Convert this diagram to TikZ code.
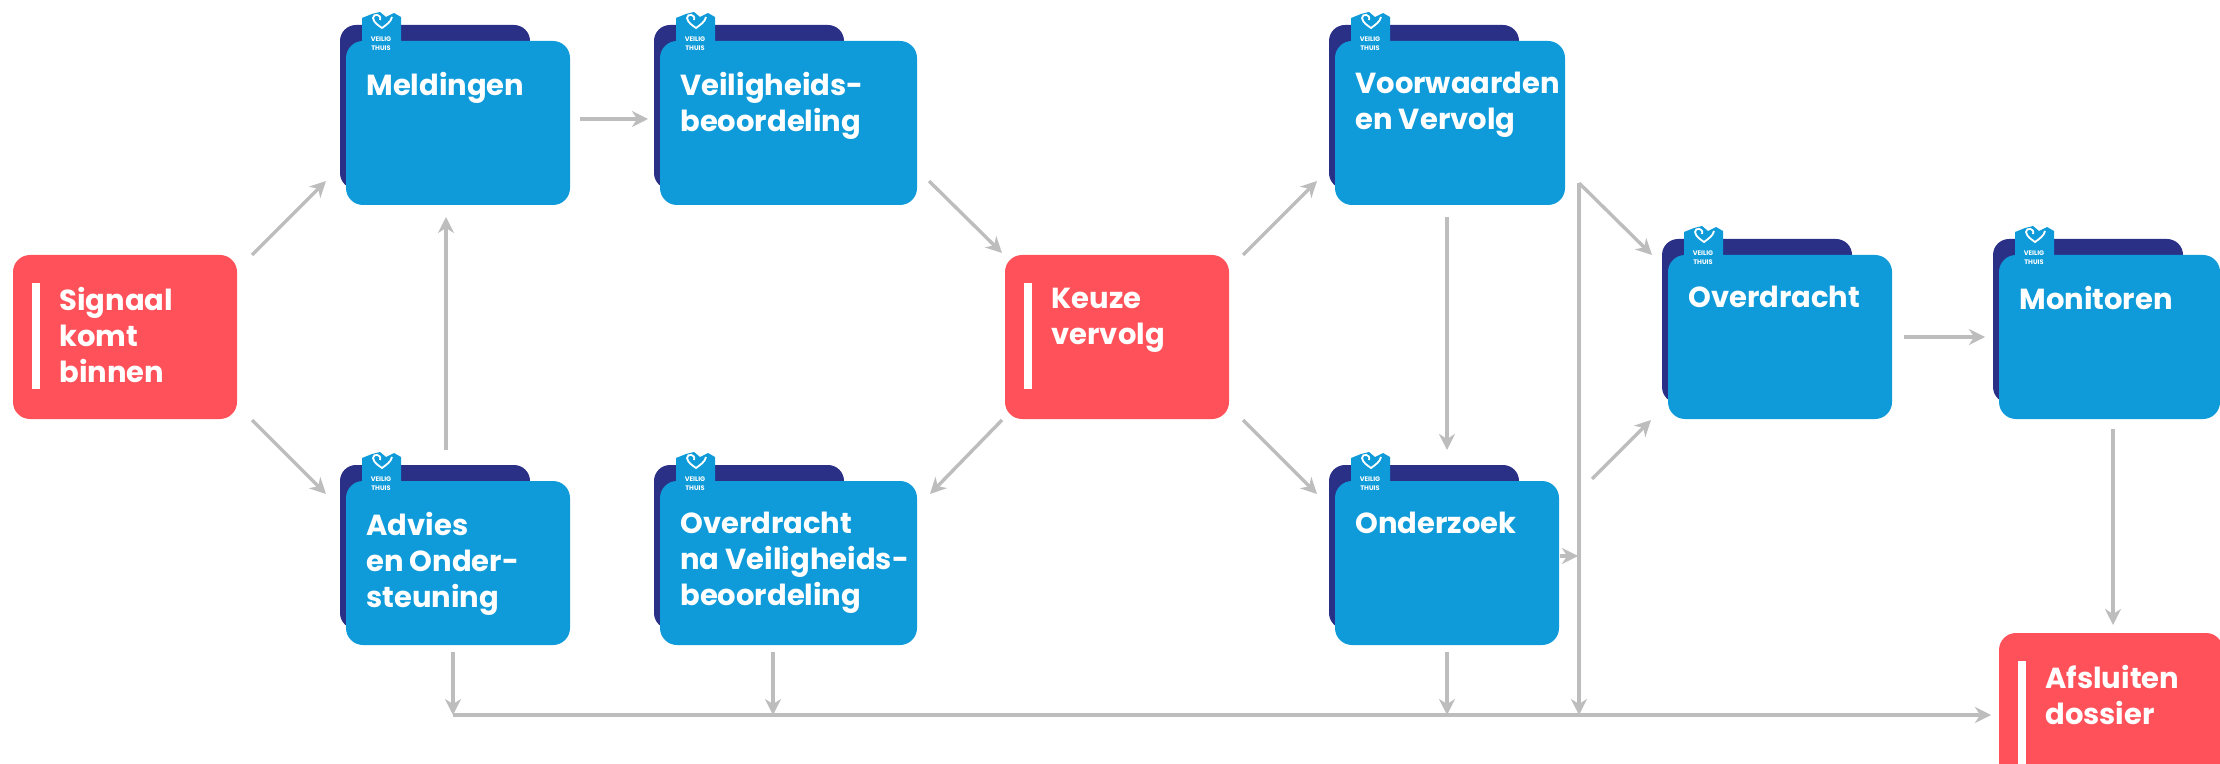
\documentclass[tikz,border=0pt]{standalone}
\usepackage{fontspec}
\setmainfont{Poppins}
\usetikzlibrary{positioning}
\usetikzlibrary{calc}
\usetikzlibrary{arrows.meta}

\definecolor{vtblue}{HTML}{0F9BD9}
\definecolor{vtnavy}{HTML}{2B3087}
\definecolor{vtred}{HTML}{FF5159}
\definecolor{vtgrey}{HTML}{BDBDBD}

\tikzset{
  bluebox/.style={fill=vtblue, rounded corners=8.5pt, inner sep=0pt, outer sep=0pt, anchor=north west},
  redbox/.style={fill=vtred, rounded corners=8.5pt, inner sep=0pt, outer sep=0pt, anchor=north west
                , minimum width=112pt, minimum height=82pt},
  backbox/.style={fill=vtnavy, rounded corners=8pt, inner sep=0pt, outer sep=0pt, anchor=north west
                , minimum width=95pt, minimum height=82pt},
  whitebar/.style={fill=white, inner sep=0pt, outer sep=0pt, anchor=north west
                , minimum width=4pt, minimum height=53pt},
  boxtext/.style={text=white, inner sep=0pt, anchor=north west, align=left
                , font=\bfseries\fontsize{14.5}{18}\selectfont},
  badgetext/.style={text=white, inner sep=0pt, align=center
                , font=\bfseries\fontsize{3.3}{4.6}\selectfont},
  conn/.style={draw=vtgrey, line width=1.7pt, -{Stealth[length=8pt,width=8pt,inset=2.5pt]}},
}

% name, x, y, width, text
\newcommand{\vtfolder}[5]{
  \node (#1-back) [backbox] at (#2-6,#3-16) {};
  \node (#1) [bluebox, minimum width=#4*0.5pt, minimum height=82pt] at (#2,#3) {};
  \fill [vtblue] (#2+16,#3+17) -- (#2+16,#3-23) -- (#2+26,#3-27) -- (#2+34,#3-29)
    -- (#2+40,#3-24) -- (#2+48,#3-28) -- (#2+55,#3-24) -- (#2+55,#3+17) -- cycle;
  \draw [white, line width=0.9pt] (#2+34,#3-21) .. controls (#2+36,#3-27) and (#2+27,#3-28) .. (#2+27,#3-23)
    .. controls (#2+28,#3-18) and (#2+32,#3-16) .. (#2+36,#3-13)
    .. controls (#2+40,#3-16) and (#2+45,#3-19) .. (#2+46,#3-24);
  \node (#1-badge) [badgetext] at (#2+35,#3+3) {VEILIG\\THUIS};
  \node (#1-text) [boxtext] at (#2+20,#3+31) {\vphantom{l}#5};
}

% name, x, y, text
\newcommand{\vtstep}[4]{
  \node (#1) [redbox] at (#2,#3) {};
  \node (#1-bar) [whitebar] at (#2+19,#3+28) {};
  \node (#1-text) [boxtext] at (#2+46,#3+32) {\vphantom{l}#4};
}

\begin{document}
\begin{tikzpicture}[x=0.5pt,y=-0.5pt]

  \useasboundingbox (0,0) rectangle (2220,764);
  \clip (0,0) rectangle (2220,764);

  \vtfolder{meldingen}{346}{41}{224}{Meldingen}
  \vtfolder{veiligheid}{660}{41}{257}{Veiligheids-\\beoordeling}
  \vtfolder{voorwaarden}{1335}{41}{230}{Voorwaarden\\en Vervolg}
  \vtfolder{overdracht}{1668}{255}{224}{Overdracht}
  \vtfolder{monitoren}{1999}{255}{221}{Monitoren}
  \vtfolder{advies}{346}{481}{224}{Advies\\en Onder-\\steuning}
  \vtfolder{overdrachtna}{660}{481}{257}{Overdracht\\na Veiligheids-\\beoordeling}
  \vtfolder{onderzoek}{1335}{481}{224}{Onderzoek}

  \vtstep{signaal}{13}{255}{Signaal\\komt\\binnen}
  \vtstep{keuze}{1005}{255}{Keuze\\vervolg}
  \vtstep{afsluiten}{1999}{633}{Afsluiten\\dossier}

  \coordinate (bus1) at (453,715);
  \coordinate (bus2) at (773,715);
  \coordinate (bus3) at (1447,715);
  \coordinate (railtop) at ($(voorwaarden.south east)+(14,-22)$);
  \coordinate (railbot) at (railtop |- bus1);
  \coordinate (railmid) at ($(onderzoek.east)+(19,-7)$);

  \draw [conn] ($(signaal.north east)+(15,0)$) -- ($(meldingen.south west)+(-20,-24)$);
  \draw [conn] ($(signaal.south east)+(15,1)$) -- ($(advies.north west)+(-20,13)$);
  \draw [conn] ($(meldingen.east)+(10,-4)$) -- ($(veiligheid.west)+(-12,-4)$);
  \draw [conn] ($(advies.north)+(-12,-31)$) -- ($(meldingen.south)+(-12,12)$);
  \draw [conn] ($(veiligheid.south east)+(12,-24)$) -- ($(keuze.north west)+(-3,-2)$);
  \draw [conn] ($(keuze.south west)+(-3,1)$) -- ($(overdrachtna.north east)+(13,13)$);
  \draw [conn] ($(keuze.north east)+(14,0)$) -- ($(voorwaarden.south west)+(-18,-24)$);
  \draw [conn] ($(keuze.south east)+(14,1)$) -- ($(onderzoek.north west)+(-18,13)$);
  \draw [conn] ($(voorwaarden.south west)+(112,12)$) -- ($(onderzoek.north)+(0,-31)$);
  \draw [conn] (railtop) -- ($(overdracht.north west)+(-16,0)$);
  \draw [conn] (railtop) -- (railbot);
  \draw [conn] ($(onderzoek.east)+(1,-7)$) -- (railmid);
  \draw [conn] ($(onderzoek.north east)+(33,-2)$) -- ($(overdracht.south west)+(-17,1)$);
  \draw [conn] ($(overdracht.east)+(12,0)$) -- ($(monitoren.west)+(-14,0)$);
  \draw [conn] ($(monitoren.south)+(3.5,10)$) -- ($(afsluiten.north)+(2,-8)$);

  \draw [conn] ($(advies.south)+(-5,7)$) -- (bus1);
  \draw [conn] ($(overdrachtna.south)+(-15.5,7)$) -- (bus2);
  \draw [conn] ($(onderzoek.south)+(0,7)$) -- (bus3);
  \draw [conn] (bus1) -- ($(afsluiten.west)+(-8,0)$);

\end{tikzpicture}
\end{document}
